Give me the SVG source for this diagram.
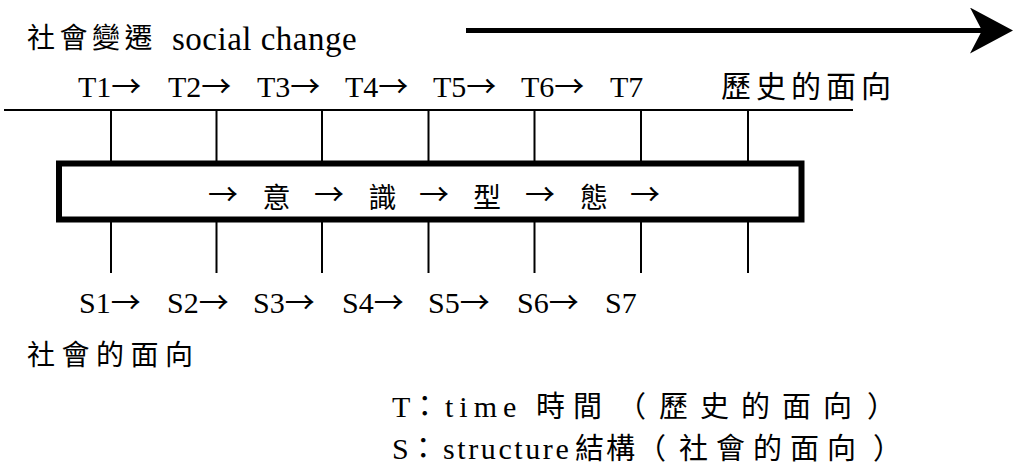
<svg xmlns="http://www.w3.org/2000/svg" width="1018" height="475" viewBox="0 0 1018 475">
<style>
.lat{font-family:"Liberation Serif","Noto Sans CJK TC",serif;fill:#000}
.cjk{font-family:"Noto Sans CJK TC","Liberation Serif",sans-serif;fill:#000}
.lbl{font-size:30px}
.arr{font-family:"Noto Sans CJK TC",sans-serif;font-size:30px}
.thin{stroke:#000;stroke-width:2;fill:none}
.box{stroke:#000;stroke-width:6;fill:#fff}
</style>
<defs>
<marker id="bigArrow" markerUnits="userSpaceOnUse" viewBox="0 0 45 46" refX="14" refY="23" markerWidth="45" markerHeight="46" orient="auto">
<path d="M0,0 L43,23 L0,46 L12,23 Z" fill="#000"/>
</marker>
</defs>
<rect width="1018" height="475" fill="#fff"/>

<g id="connectors">
<line x1="466" y1="30.5" x2="984" y2="30.5" stroke="#000" stroke-width="5" marker-end="url(#bigArrow)"/>
<line class="thin" x1="4" y1="110" x2="853" y2="110"/>
<path class="thin" d="M111,110V161 M216.5,110V161 M322,110V161 M428.5,110V161 M534.5,110V161 M641,110V161 M748,110V161"/>
<path class="thin" d="M111,222V273 M216.5,222V273 M322,222V273 M428.5,222V273 M534.5,222V273 M641,222V273 M748,222V273"/>
</g>

<g id="title">
<text class="cjk" x="27" y="48" font-size="28" letter-spacing="4.5">社會變遷</text>
<text class="lat" x="172" y="50" font-size="33" letter-spacing="0.5">social change</text>
</g>

<g id="time-labels">
<text class="lat lbl" x="78" y="97">T1<tspan class="arr">→</tspan></text>
<text class="lat lbl" x="168" y="97">T2<tspan class="arr">→</tspan></text>
<text class="lat lbl" x="257" y="97">T3<tspan class="arr">→</tspan></text>
<text class="lat lbl" x="345" y="97">T4<tspan class="arr">→</tspan></text>
<text class="lat lbl" x="433" y="97">T5<tspan class="arr">→</tspan></text>
<text class="lat lbl" x="521" y="97">T6<tspan class="arr">→</tspan></text>
<text class="lat lbl" x="610" y="97">T7</text>
<text class="cjk" x="721" y="97" font-size="30" letter-spacing="5">歷史的面向</text>
</g>

<g id="ideology">
<rect class="box" x="59" y="163.5" width="742.5" height="56"/>
<text class="arr" x="223" y="205" text-anchor="middle">→</text>
<text class="cjk" x="276.5" y="208" font-size="28" text-anchor="middle">意</text>
<text class="arr" x="329" y="205" text-anchor="middle">→</text>
<text class="cjk" x="382.5" y="208" font-size="28" text-anchor="middle">識</text>
<text class="arr" x="434" y="205" text-anchor="middle">→</text>
<text class="cjk" x="487" y="208" font-size="28" text-anchor="middle">型</text>
<text class="arr" x="540" y="205" text-anchor="middle">→</text>
<text class="cjk" x="594" y="208" font-size="28" text-anchor="middle">態</text>
<text class="arr" x="645" y="205" text-anchor="middle">→</text>
</g>

<g id="structure-labels">
<text class="lat lbl" x="79" y="313">S1<tspan class="arr">→</tspan></text>
<text class="lat lbl" x="167" y="313">S2<tspan class="arr">→</tspan></text>
<text class="lat lbl" x="253" y="313">S3<tspan class="arr">→</tspan></text>
<text class="lat lbl" x="342" y="313">S4<tspan class="arr">→</tspan></text>
<text class="lat lbl" x="428" y="313">S5<tspan class="arr">→</tspan></text>
<text class="lat lbl" x="517" y="313">S6<tspan class="arr">→</tspan></text>
<text class="lat lbl" x="605" y="313">S7</text>
<text class="cjk" x="27" y="365" font-size="28" letter-spacing="6.5">社會的面向</text>
</g>

<g id="legend">
<text y="417">
<tspan class="lat" x="392" font-size="30">T<tspan class="cjk" font-size="29">：</tspan></tspan><tspan class="lat" x="445" font-size="30" letter-spacing="6">time</tspan><tspan class="cjk" x="536" font-size="29" letter-spacing="8">時間</tspan><tspan class="cjk" x="617" font-size="29">（</tspan><tspan class="cjk" x="659" font-size="29" letter-spacing="12">歷史的面向</tspan><tspan class="cjk" x="867" font-size="29">）</tspan>
</text>
<text y="459">
<tspan class="lat" x="392" font-size="30">S<tspan class="cjk" font-size="29">：</tspan></tspan><tspan class="lat" x="443" font-size="30" letter-spacing="2.6">structure</tspan><tspan class="cjk" x="575" font-size="29" letter-spacing="2">結構</tspan><tspan class="cjk" font-size="29">（</tspan><tspan class="cjk" x="679" font-size="29" letter-spacing="8">社會的面向</tspan><tspan class="cjk" x="873" font-size="29">）</tspan>
</text>
</g>
</svg>
